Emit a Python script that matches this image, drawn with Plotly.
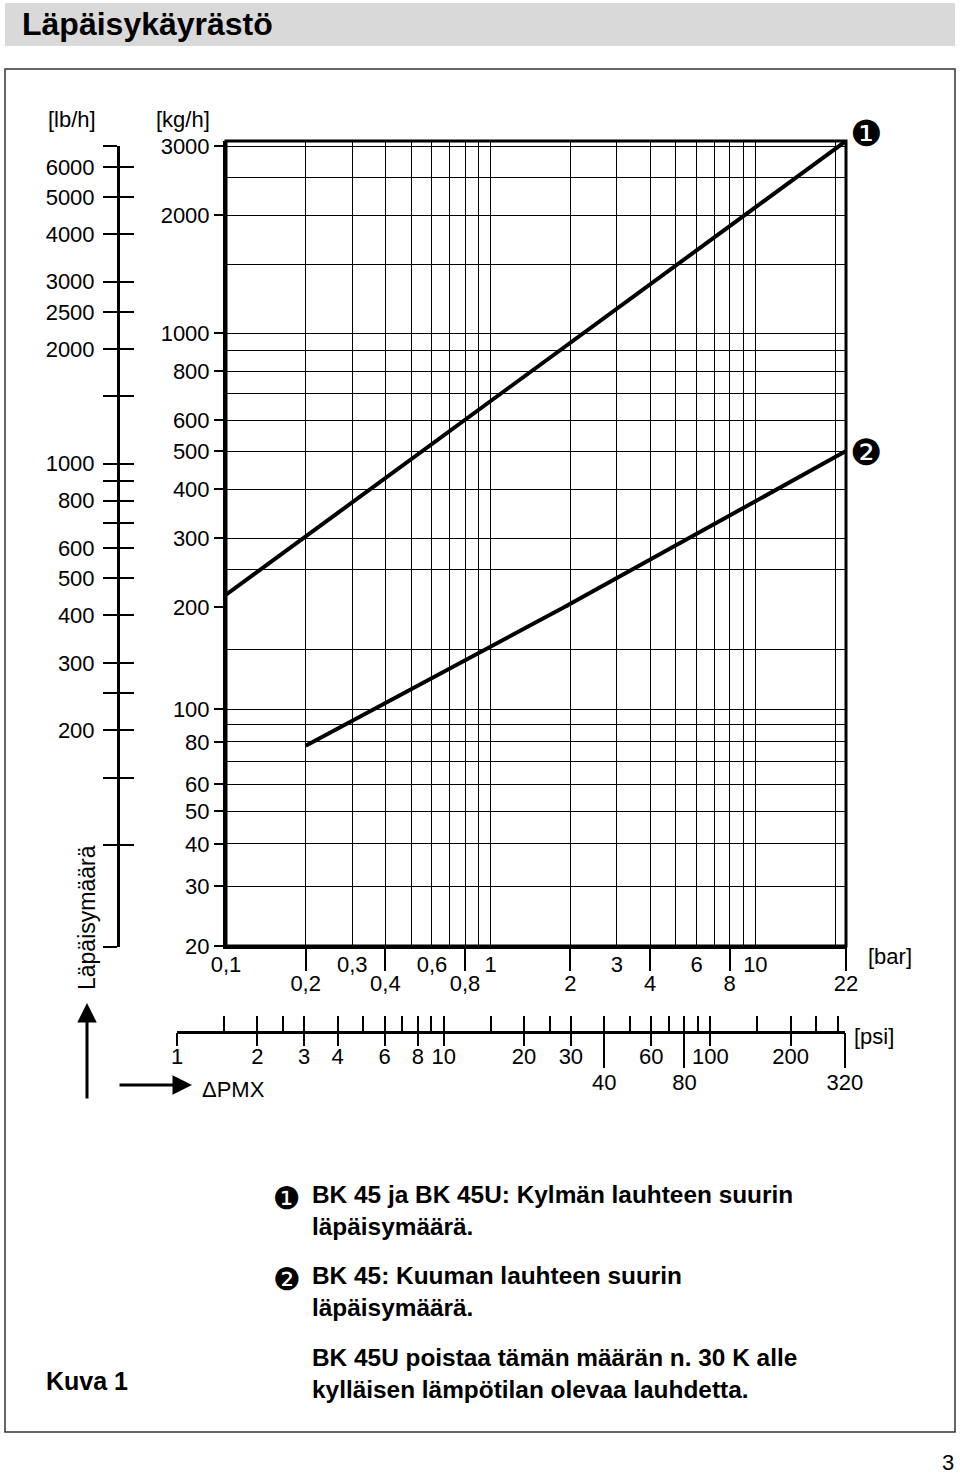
import math
import plotly.graph_objects as go

W, H = 960, 1476


def px(x):
    return x / W


def py(y):
    return 1 - y / H


# ---------------- data ----------------
bar_min, bar_max = 0.1, 22
kgh_bottom, kgh_split, kgh_top = 20, 200, 3090

curve1_bar = [0.1, 22]
curve1_kgh = [215, 3090]
curve2_bar = [0.2, 1.9, 22]
curve2_kgh = [78, 200, 500]

bar_ticks_row1 = [0.1, 0.3, 0.6, 1, 3, 6, 10]
bar_text_row1 = ["0,1", "0,3", "0,6", "1", "3", "6", "10"]
bar_ticks_row2 = [0.2, 0.4, 0.8, 2, 4, 8, 22]
bar_text_row2 = ["0,2", "0,4", "0,8", "2", "4", "8", "22"]
bar_grid_extra = [0.2, 0.4, 0.5, 0.7, 0.8, 0.9, 2, 4, 5, 7, 8, 9, 20]

kgh_ticks_low = [20, 30, 40, 50, 60, 80, 100, 200]
kgh_grid_low = [70, 90, 150]
kgh_ticks_high = [300, 400, 500, 600, 800, 1000, 2000, 3000]
kgh_grid_high = [250, 700, 900, 1500, 2500]

lbh_min, lbh_max = 54, 6800
lbh_ticks_labeled = [6000, 5000, 4000, 3000, 2500, 2000, 1000, 800, 600, 500, 400, 300, 200]
lbh_ticks_plain = [6800, 1500, 900, 700, 250, 150, 100, 54]

psi_min, psi_max = 1, 320
psi_ticks_all = [1, 1.5, 2, 2.5, 3, 4, 5, 6, 7, 8, 9, 10, 15, 20, 25, 30, 40, 50,
                 60, 70, 80, 90, 100, 150, 200, 250, 300, 320]
psi_ticks_row1 = [1, 2, 3, 4, 6, 8, 10, 20, 30, 60, 100, 200]
psi_ticks_row2 = [40, 80, 320]

legend_blocks = [
    (["BK 45 ja BK 45U: Kylmän lauhteen suurin", "läpäisymäärä."], 1210),
    (["BK 45: Kuuman lauhteen suurin", "läpäisymäärä."], 1291),
    (["BK 45U poistaa tämän määrän n. 30 K alle", "kylläisen lämpötilan olevaa lauhdetta."], 1373),
]

# ---------------- styling constants ----------------
FONT = "Liberation Sans, Arial, sans-serif"
BLACK = "black"
L, R = 226, 846
TOP, SPLIT, BOT = 141, 607, 946
lg = math.log10

fig = go.Figure()

fig.add_trace(go.Scatter(x=curve1_bar, y=curve1_kgh, xaxis="x", yaxis="y2", mode="lines",
                         line=dict(color=BLACK, width=4), showlegend=False, hoverinfo="skip"))
# curve 2 crosses the scale change at 200 kg/h: drawn in both segments, each clips its own part
for ya in ("y", "y2"):
    fig.add_trace(go.Scatter(x=curve2_bar, y=curve2_kgh, xaxis="x", yaxis=ya, mode="lines",
                             line=dict(color=BLACK, width=4), showlegend=False, hoverinfo="skip"))


def dummy(xa, ya, xv, yv):
    fig.add_trace(go.Scatter(x=[xv], y=[yv], xaxis=xa, yaxis=ya, mode="markers",
                             marker=dict(opacity=0, size=1), showlegend=False, hoverinfo="skip"))


dummy("x4", "y", 1, 50)
dummy("x3", "y3", 0.5, 1000)
dummy("x3", "y4", 0.5, 1000)
dummy("x5", "y5", 10, 0.5)
dummy("x6", "y5", 10, 0.5)
dummy("x7", "y5", 10, 0.5)

tf = dict(family=FONT, size=22, color=BLACK)
grid = dict(showgrid=True, gridcolor=BLACK, gridwidth=1.2)
eps = 1e-4
common = dict(automargin=False, zeroline=False)

layout = dict(
    width=W, height=H, margin=dict(l=0, r=0, t=0, b=0, pad=0, autoexpand=False),
    paper_bgcolor="white", plot_bgcolor="rgba(0,0,0,0)",
    showlegend=False, font=tf,
    xaxis=dict(domain=[px(L), px(R)], type="log", range=[lg(bar_min), lg(bar_max)], anchor="y",
               tickmode="array", tickvals=bar_ticks_row1, ticktext=bar_text_row1,
               ticks="outside", ticklen=5, tickcolor="rgba(0,0,0,0)", tickfont=tf,
               ticklabelstandoff=-8,
               showline=True, linewidth=3, linecolor=BLACK, **grid, **common,
               minor=dict(tickmode="array", tickvals=bar_grid_extra, showgrid=True,
                          gridcolor=BLACK, gridwidth=1.2, ticks="")),
    xaxis4=dict(domain=[px(L), px(R)], type="log", range=[lg(bar_min), lg(bar_max)], anchor="y",
                overlaying="x", tickmode="array", tickvals=bar_ticks_row2, ticktext=bar_text_row2,
                ticks="outside", ticklen=24, tickwidth=1.5, tickcolor=BLACK, tickfont=tf,
                ticklabelstandoff=-6,
                showgrid=False, showline=False, **common),
    yaxis=dict(domain=[py(BOT), py(SPLIT)], type="log",
               range=[lg(kgh_bottom) - eps, lg(kgh_split) + eps], anchor="x",
               tickmode="array", tickvals=kgh_ticks_low, ticks="outside", ticklen=9, tickwidth=1.5,
               tickcolor=BLACK, tickfont=tf, showline=True, linewidth=3, linecolor=BLACK,
               **grid, **common,
               minor=dict(tickmode="array", tickvals=kgh_grid_low, showgrid=True,
                          gridcolor=BLACK, gridwidth=1.2, ticks="")),
    yaxis2=dict(domain=[py(SPLIT), py(TOP)], type="log",
                range=[lg(kgh_split) + eps, lg(kgh_top)], anchor="x",
                tickmode="array", tickvals=kgh_ticks_high, ticks="outside", ticklen=9, tickwidth=1.5,
                tickcolor=BLACK, tickfont=tf, showline=True, linewidth=3, linecolor=BLACK,
                **grid, **common,
                minor=dict(tickmode="array", tickvals=kgh_grid_high, showgrid=True,
                           gridcolor=BLACK, gridwidth=1.2, ticks="")),
    xaxis3=dict(domain=[0, 0.08], range=[0, 1], visible=False, anchor="y3", **common),
    yaxis3=dict(domain=[py(947), py(146)], type="log", anchor="free", position=px(118),
                range=[lg(lbh_min) - 5e-4, lg(lbh_max) + 5e-4], side="left",
                tickmode="array", tickvals=lbh_ticks_labeled + lbh_ticks_plain,
                ticktext=[str(v) for v in lbh_ticks_labeled] + [""] * len(lbh_ticks_plain),
                ticks="outside", ticklen=14, tickwidth=2, tickcolor=BLACK, tickfont=tf,
                ticklabelstandoff=4,
                showline=True, linewidth=3, linecolor=BLACK, showgrid=False, **common),
    yaxis4=dict(domain=[py(947), py(146)], type="log", anchor="free", position=px(118),
                overlaying="y3", side="left",
                range=[lg(lbh_min) - 5e-4, lg(lbh_max) + 5e-4],
                tickmode="array", tickvals=lbh_ticks_labeled + lbh_ticks_plain,
                ticks="inside", ticklen=15, tickwidth=2, tickcolor=BLACK, showticklabels=False,
                showline=False, showgrid=False, **common),
    yaxis5=dict(domain=[py(1040), py(1020)], range=[0, 1], visible=False, anchor="x5", **common),
    xaxis5=dict(domain=[px(177), px(845)], type="log", anchor="free", position=py(1032),
                range=[lg(psi_min) - eps, lg(psi_max) + eps],
                tickmode="array", tickvals=psi_ticks_all, ticks="inside", ticklen=15, tickwidth=1.5,
                tickcolor=BLACK, showticklabels=False, showline=True, linewidth=3, linecolor=BLACK,
                showgrid=False, **common),
    xaxis6=dict(domain=[px(177), px(845)], type="log", anchor="free", position=py(1032),
                overlaying="x5", range=[lg(psi_min) - eps, lg(psi_max) + eps],
                tickmode="array", tickvals=psi_ticks_row1, ticktext=[str(v) for v in psi_ticks_row1],
                ticks="outside", ticklen=13, tickwidth=1.5, tickcolor=BLACK, tickfont=tf,
                ticklabelstandoff=-8,
                showline=False, showgrid=False, **common),
    xaxis7=dict(domain=[px(177), px(845)], type="log", anchor="free", position=py(1032),
                overlaying="x5", range=[lg(psi_min) - eps, lg(psi_max) + eps],
                tickmode="array", tickvals=psi_ticks_row2, ticktext=[str(v) for v in psi_ticks_row2],
                ticks="outside", ticklen=35, tickwidth=1.5, tickcolor=BLACK, tickfont=tf,
                ticklabelstandoff=-4,
                showline=False, showgrid=False, **common),
)
fig.update_layout(**layout)

shapes = [
    dict(type="rect", xref="paper", yref="paper", x0=px(5), x1=px(955), y0=py(46), y1=py(3),
         fillcolor="#d9d9d9", line=dict(width=0), layer="below"),
    dict(type="rect", xref="paper", yref="paper", x0=px(5), x1=px(955), y0=py(1432), y1=py(69),
         line=dict(color="#333", width=1.5)),
    dict(type="rect", xref="paper", yref="paper", x0=px(L), x1=px(R), y0=py(BOT), y1=py(TOP),
         line=dict(color=BLACK, width=3)),
]
fig.update_layout(shapes=shapes)


def text(t, x, y, size=22, bold=False, xanchor="center", yanchor="middle", angle=0,
         family=FONT, align="center"):
    fig.add_annotation(text=("<b>%s</b>" % t) if bold else t, x=px(x), y=py(y), xref="paper", yref="paper",
                       showarrow=False, xanchor=xanchor, yanchor=yanchor, textangle=angle, align=align,
                       font=dict(family=family, size=size, color=BLACK))


text("Läpäisykäyrästö", 20, 24, size=32, bold=True, xanchor="left")
text("[lb/h]", 72, 119)
text("[kg/h]", 183, 119)
text("[bar]", 890, 957)
text("[psi]", 874, 1036)
text("ΔPMX", 233, 1089)
text("Läpäisymäärä", 87, 918, size=23, angle=-90)
text("❶", 866, 133, size=36, family="DejaVu Sans")
text("❷", 866, 452, size=36, family="DejaVu Sans")
text("❶", 287, 1198, size=31, family="DejaVu Sans")
text("❷", 287, 1279, size=31, family="DejaVu Sans")
for lines, yy in legend_blocks:
    text("<br>".join("<b>%s</b>" % s for s in lines), 310, yy, size=24.4, xanchor="left", align="left")
text("Kuva 1", 44, 1381, size=25, bold=True, xanchor="left")
text("3", 948, 1462, size=22)

fig.add_annotation(x=px(87), y=py(1003), xref="paper", yref="paper", ax=0, ay=97, text="",
                   showarrow=True, arrowhead=2, arrowsize=1.3, arrowwidth=3, arrowcolor=BLACK)
fig.add_annotation(x=px(192), y=py(1085), xref="paper", yref="paper", ax=-74, ay=0, text="",
                   showarrow=True, arrowhead=2, arrowsize=1.3, arrowwidth=3, arrowcolor=BLACK)

fig.write_html(
    "out.html",
    config={"displayModeBar": False},
    post_script=("document.documentElement.style.margin='0';"
                 "document.body.style.margin='0';"
                 "document.documentElement.style.overflow='hidden';"
                 "document.body.style.overflow='hidden';"),
)
